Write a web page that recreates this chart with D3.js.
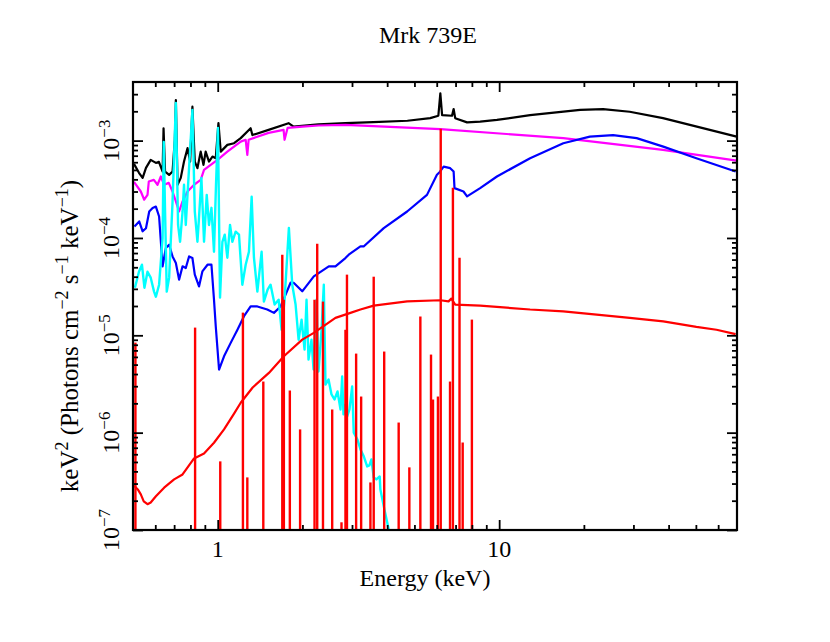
<!DOCTYPE html>
<html>
<head>
<meta charset="utf-8">
<title>Mrk 739E</title>
<script src="https://cdn.jsdelivr.net/npm/d3@7/dist/d3.min.js"></script>
<style>
    body { margin: 0; background: white; }
    text { font-family: "Liberation Serif", "Times New Roman", serif; fill: black; }
</style>
</head>
<body>
<div id="chart"></div>
<script>
// ---- data (energy in keV, keV^2 photons cm^-2 s^-1 keV^-1) ----
var totalE = [0.504,0.525,0.541,0.556,0.578,0.603,0.618,0.637,0.642,0.650,0.672,0.691,0.704,0.710,0.720,0.739,0.759,0.781,0.798,0.813,0.829,0.847,0.870,0.890,0.906,0.931,0.958,0.984,1.006,1.025,1.082,1.143,1.207,1.309,1.328,1.516,1.785,1.860,2.280,2.843,3.574,4.72,5.69,6.08,6.18,6.27,6.80,6.89,6.98,7.69,8.56,9.82,12.88,19.4,23.4,29.1,38.2,50.4,69.8];
var totalF = [5.77e-4,4.67e-4,4.14e-4,5.25e-4,6.34e-4,5.90e-4,6.05e-4,4.81e-4,1.34e-3,4.81e-4,4.45e-4,4.81e-4,1.02e-3,2.61e-3,3.52e-4,4.14e-4,6.09e-4,8.36e-4,6.09e-4,2.23e-3,6.09e-4,5.21e-4,7.71e-4,5.63e-4,7.71e-4,6.09e-4,6.86e-4,6.6e-4,1.51e-3,7.71e-4,9.04e-4,9.4e-4,1.06e-3,1.34e-3,1.14e-3,1.29e-3,1.51e-3,1.39e-3,1.47e-3,1.51e-3,1.55e-3,1.60e-3,1.70e-3,1.80e-3,3.06e-3,1.83e-3,1.80e-3,2.11e-3,1.70e-3,1.54e-3,1.57e-3,1.63e-3,1.83e-3,2.07e-3,2.11e-3,1.98e-3,1.70e-3,1.39e-3,1.10e-3];

var powE = [0.504,0.533,0.548,0.563,0.569,0.593,0.611,0.628,0.645,0.670,0.691,0.710,0.729,0.750,0.781,0.824,0.870,0.894,0.944,0.998,1.082,1.207,1.257,1.274,1.288,1.516,1.714,1.728,1.771,2.002,2.280,2.843,6.18,16.9,38.2,69.8];
var powF = [3.77e-4,3.00e-4,2.47e-4,2.77e-4,3.80e-4,3.95e-4,3.52e-4,4.28e-4,3.52e-4,3.68e-4,3.00e-4,2.37e-4,1.87e-4,2.37e-4,3.00e-4,3.52e-4,3.95e-4,5.0e-4,5.63e-4,6.34e-4,7.71e-4,9.77e-4,1.02e-3,7.13e-4,1.02e-3,1.20e-3,1.29e-3,1.02e-3,1.35e-3,1.39e-3,1.43e-3,1.45e-3,1.31e-3,1.06e-3,8.03e-4,6.24e-4];

var reflE = [0.506,0.526,0.541,0.556,0.571,0.587,0.603,0.619,0.637,0.654,0.672,0.691,0.710,0.729,0.750,0.770,0.791,0.813,0.829,0.858,0.882,0.920,0.950,0.970,0.984,1.011,1.053,1.112,1.175,1.240,1.309,1.383,1.500,1.584,1.673,1.815,1.865,1.997,2.195,2.481,2.620,2.843,2.921,3.214,3.30,3.89,4.71,5.54,6.01,6.14,6.35,6.70,6.89,6.94,7.47,7.69,8.56,9.82,12.88,16.9,21.0,25.4,30.8,38.3,50.2,69.2];
var reflF = [1.31e-4,1.48e-4,1.17e-4,1.26e-4,1.87e-4,2.03e-4,2.10e-4,1.66e-4,5.11e-5,7.87e-5,8.51e-5,6.46e-5,5.53e-5,3.73e-5,5.11e-5,4.91e-5,6.46e-5,6.22e-5,4.20e-5,3.18e-5,4.53e-5,5.31e-5,5.31e-5,2.32e-5,1.24e-5,4.45e-6,6.09e-6,8.36e-6,1.14e-5,1.57e-5,1.98e-5,1.98e-5,1.84e-5,1.70e-5,1.98e-5,3.47e-5,3.45e-5,2.83e-5,4.03e-5,5.11e-5,5.11e-5,6.22e-5,6.73e-5,8.18e-5,8.18e-5,1.26e-4,1.87e-4,2.77e-4,4.45e-4,4.74e-4,5.41e-4,5.21e-4,4.81e-4,3.25e-4,3.00e-4,2.67e-4,3.25e-4,4.28e-4,6.6e-4,9.4e-4,1.10e-3,1.14e-3,1.06e-3,8.68e-4,6.6e-4,4.81e-4];

var softE = [0.508,0.525,0.538,0.549,0.563,0.578,0.594,0.603,0.619,0.637,0.643,0.650,0.659,0.672,0.691,0.710,0.723,0.735,0.750,0.759,0.770,0.791,0.813,0.829,0.847,0.858,0.875,0.894,0.914,0.931,0.950,0.970,0.986,1.002,1.019,1.039,1.059,1.082,1.106,1.127,1.158,1.190,1.223,1.257,1.291,1.320,1.345,1.383,1.432,1.459,1.504,1.541,1.593,1.646,1.686,1.728,1.790,1.840,1.891,1.938,1.986,2.035,2.068,2.102,2.154,2.190,2.244,2.281,2.338,2.382,2.415,2.476,2.537,2.600,2.665,2.731,2.768,2.798,2.844,2.884,2.939,3.004,3.043,3.137,3.215,3.303,3.396,3.459,3.516,3.583,3.663,3.763,3.784,3.910,4.050,4.20];
var softF = [3.08e-5,4.50e-5,5.31e-5,3.08e-5,4.50e-5,3.91e-5,2.81e-5,2.49e-5,3.31e-5,1.00e-4,9.7e-4,1.86e-4,2.81e-5,3.91e-5,2.35e-4,2.44e-3,1.36e-4,9.14e-5,1.86e-4,3.52e-4,1.36e-4,5.25e-4,2.07e-3,1.86e-4,9.14e-5,1.61e-4,4.14e-4,9.14e-5,2.77e-4,1.36e-4,2.04e-4,7.21e-5,3.52e-4,1.35e-3,2.44e-5,9.14e-5,1.08e-4,6.27e-5,1.36e-4,9.14e-5,1.16e-4,1.08e-4,3.31e-5,5.31e-5,7.21e-5,2.65e-4,6.27e-5,2.81e-5,7.21e-5,2.22e-5,2.94e-5,3.31e-5,2.07e-5,2.32e-5,1.14e-5,2.32e-5,1.27e-4,3.31e-5,2.07e-5,9.0e-6,1.45e-5,7.13e-6,2.32e-5,5.63e-6,9.0e-6,4.45e-6,2.32e-5,4.25e-6,1.14e-5,3.31e-5,3.12e-6,3.51e-6,2.47e-6,2.19e-6,2.65e-6,1.73e-6,3.77e-6,1.54e-6,1.94e-6,1.47e-6,1.73e-6,2.98e-6,1.00e-6,8.5e-7,6.73e-7,5.71e-7,4.50e-7,4.61e-7,5.31e-7,3.47e-7,3.31e-7,3.55e-7,2.61e-7,1.63e-7,1.02e-7,6.5e-8];

var contE = [0.504,0.520,0.533,0.546,0.563,0.578,0.603,0.645,0.700,0.750,0.824,0.894,0.970,1.053,1.143,1.207,1.331,1.520,1.718,1.997,2.195,2.620,2.962,3.214,3.583,4.71,6.18,6.61,6.76,6.98,8.56,12.88,16.9,22.2,29.1,38.3,50.2,59.2,69.2];
var contF = [2.87e-7,2.61e-7,2.32e-7,1.97e-7,1.84e-7,1.92e-7,2.22e-7,2.72e-7,3.31e-7,3.72e-7,5.43e-7,6.12e-7,7.87e-7,1.08e-6,1.57e-6,2.03e-6,2.91e-6,4.11e-6,6.09e-6,9.03e-6,1.06e-5,1.51e-5,1.70e-5,1.84e-5,2.02e-5,2.23e-5,2.29e-5,2.23e-5,2.38e-5,2.07e-5,2.02e-5,1.84e-5,1.76e-5,1.63e-5,1.51e-5,1.39e-5,1.22e-5,1.14e-5,1.03e-5];

// emission lines: energy and peak height
var lineE = [0.510,0.831,1.021,1.229,1.274,1.452,1.696,1.718,1.804,1.962,2.208,2.257,2.366,2.551,2.753,2.844,2.879,3.103,3.233,3.488,3.583,3.904,4.395,4.796,5.248,5.726,5.82,6.06,6.20,6.69,6.85,7.23,7.42,8.00];
var lineF = [8.41e-6,1.20e-5,5.07e-7,1.71e-5,3.47e-7,3.35e-6,6.73e-5,2.32e-5,2.71e-6,1.08e-6,2.32e-5,8.71e-5,2.22e-5,1.73e-6,1.20e-7,1.14e-5,4.20e-5,6.49e-6,2.35e-6,3.08e-7,4.00e-5,6.81e-6,1.27e-6,4.40e-7,1.56e-5,6.34e-6,2.19e-6,2.35e-6,1.32e-3,3.35e-6,3.27e-4,6.27e-5,7.92e-7,1.45e-5];

var xDomain = [0.5, 70];
var yDomain = [1e-7, 4e-3];
var xMajor = [1, 10];
var xMajorLabels = ["1", "10"];
var xMinor = [0.6,0.7,0.8,0.9,2,3,4,5,6,7,8,9,20,30,40,50,60];
var yMajor = [1e-7,1e-6,1e-5,1e-4,1e-3];
var yMajorExp = ["\u22127","\u22126","\u22125","\u22124","\u22123"];
var yMinor = [];
yMajor.forEach(function(d){
    for (var k = 2; k <= 9; ++k) if (k * d < 4e-3) yMinor.push(k * d);
});

// ---- layout ----
var svgW = 830, svgH = 642;
var pLeft = 133, pRight = 737, pTop = 82, pBottom = 530;
var fs = 24;

var svg = d3.select("#chart").append("svg")
    .attr("width", svgW)
    .attr("height", svgH);

var x = d3.scaleLog().domain(xDomain).range([pLeft, pRight]);
var y = d3.scaleLog().domain(yDomain).range([pBottom, pTop]);

svg.append("defs").append("clipPath").attr("id", "plotclip")
    .append("rect")
    .attr("x", pLeft).attr("y", pTop)
    .attr("width", pRight - pLeft).attr("height", pBottom - pTop);

var plot = svg.append("g").attr("clip-path", "url(#plotclip)");

var line = d3.line().x(function(d){ return x(d[0]); }).y(function(d){ return y(d[1]); });

function draw_curve(E, F, color, w)
{
    plot.append("path")
        .datum(d3.zip(E, F))
        .attr("d", line)
        .attr("fill", "none")
        .attr("stroke", color)
        .attr("stroke-width", w || 2)
        .attr("stroke-linejoin", "round");
}

draw_curve(totalE, totalF, "#000000", 2.2);
draw_curve(powE, powF, "#ff00ff", 2.2);
draw_curve(reflE, reflF, "#0000ff", 2.2);
draw_curve(softE, softF, "#00ffff", 2.4);
draw_curve(contE, contF, "#ff0000", 2.2);

plot.append("g").selectAll("line")
    .data(d3.zip(lineE, lineF))
    .enter().append("line")
    .attr("x1", function(d){ return x(d[0]); })
    .attr("x2", function(d){ return x(d[0]); })
    .attr("y1", y(yDomain[0]))
    .attr("y2", function(d){ return y(d[1]); })
    .attr("stroke", "#ff0000")
    .attr("stroke-width", 2.4);

// ---- ticks (inside, all four sides) ----
function tick_axis(axis, tx, ty)
{
    var g = svg.append("g").attr("transform", "translate(" + tx + "," + ty + ")").call(axis);
    g.select(".domain").remove();
    g.selectAll(".tick line").attr("stroke", "black").attr("stroke-width", 1.8);
    g.selectAll("text").remove();
}
tick_axis(d3.axisBottom(x).tickValues(xMajor).tickSize(-10).tickSizeOuter(0), 0, pBottom);
tick_axis(d3.axisBottom(x).tickValues(xMinor).tickSize(-5).tickSizeOuter(0), 0, pBottom);
tick_axis(d3.axisTop(x).tickValues(xMajor).tickSize(-10).tickSizeOuter(0), 0, pTop);
tick_axis(d3.axisTop(x).tickValues(xMinor).tickSize(-5).tickSizeOuter(0), 0, pTop);
tick_axis(d3.axisLeft(y).tickValues(yMajor).tickSize(-10).tickSizeOuter(0), pLeft, 0);
tick_axis(d3.axisLeft(y).tickValues(yMinor).tickSize(-5).tickSizeOuter(0), pLeft, 0);
tick_axis(d3.axisRight(y).tickValues(yMajor).tickSize(-10).tickSizeOuter(0), pRight, 0);
tick_axis(d3.axisRight(y).tickValues(yMinor).tickSize(-5).tickSizeOuter(0), pRight, 0);

svg.append("rect")
    .attr("x", pLeft).attr("y", pTop)
    .attr("width", pRight - pLeft).attr("height", pBottom - pTop)
    .attr("fill", "none").attr("stroke", "black").attr("stroke-width", 2.2);

// ---- labels ----
xMajor.forEach(function(v, i){
    svg.append("text")
        .attr("x", x(v)).attr("y", 557)
        .attr("text-anchor", "middle")
        .attr("font-size", fs)
        .text(xMajorLabels[i]);
});

yMajor.forEach(function(v, i){
    var t = svg.append("text")
        .attr("transform", "translate(119," + y(v) + ") rotate(-90)")
        .attr("text-anchor", "middle")
        .attr("font-size", fs);
    t.append("tspan").text("10");
    t.append("tspan").attr("dy", -9).attr("font-size", 17).text(yMajorExp[i]);
});

svg.append("text")
    .attr("x", 428).attr("y", 43)
    .attr("text-anchor", "middle")
    .attr("font-size", fs)
    .text("Mrk 739E");

svg.append("text")
    .attr("x", 425).attr("y", 586)
    .attr("text-anchor", "middle")
    .attr("font-size", fs)
    .text("Energy (keV)");

var ylab = svg.append("text")
    .attr("transform", "translate(78,336) rotate(-90)")
    .attr("text-anchor", "middle")
    .attr("font-size", 25);
var ylabParts = [["keV", false], ["2", true], [" (Photons cm", false], ["\u22122", true], [" s", false], ["\u22121", true], [" keV", false], ["\u22121", true], [")", false]];
var raised = false;
ylabParts.forEach(function(p){
    var ts = ylab.append("tspan").text(p[0]);
    if (p[1] && !raised) { ts.attr("dy", -10).attr("font-size", 18); raised = true; }
    else if (p[1]) { ts.attr("font-size", 18); }
    else if (raised) { ts.attr("dy", 10); raised = false; }
});
</script>
</body>
</html>
